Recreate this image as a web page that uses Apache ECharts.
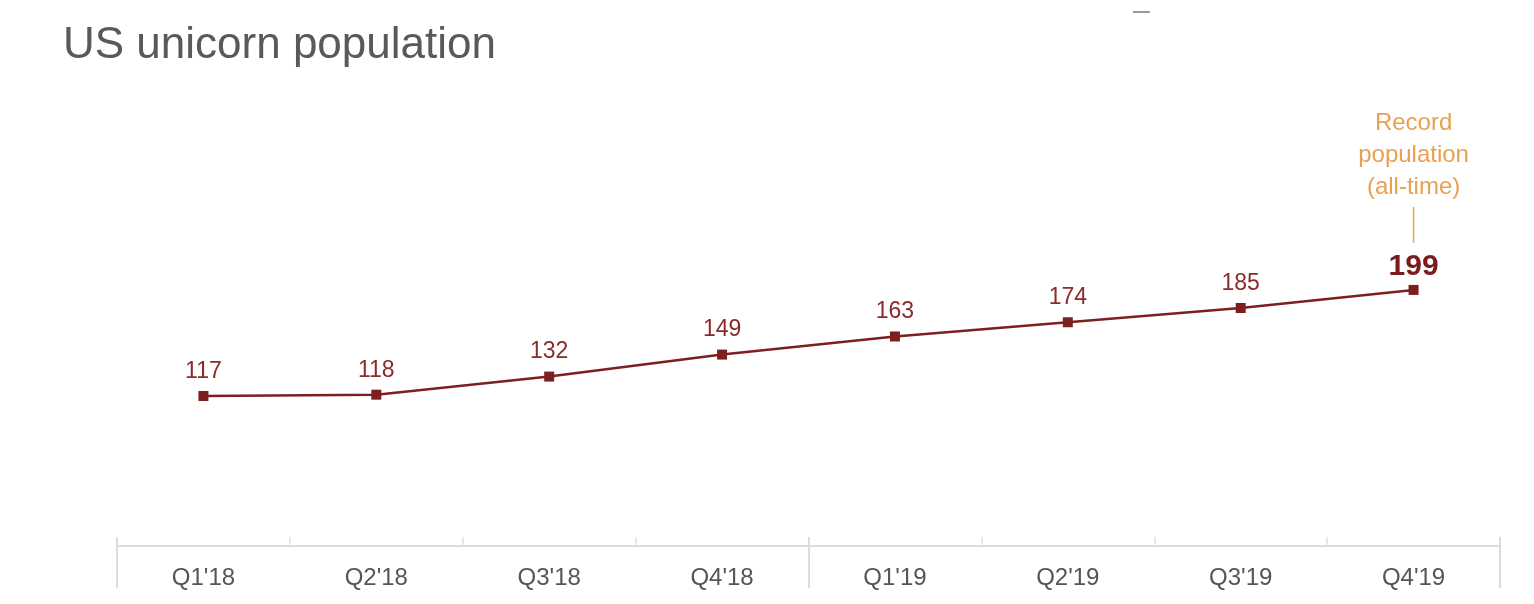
<!DOCTYPE html>
<html>
<head>
<meta charset="utf-8">
<script src="https://cdn.jsdelivr.net/npm/echarts@6/dist/echarts.min.js"></script>
<style>
html,body{margin:0;padding:0;background:#fff;}
#chart{width:1534px;height:604px;}
</style>
</head>
<body>
<div id="chart"></div>
<script>
const categories = ["Q1'18","Q2'18","Q3'18","Q4'18","Q1'19","Q2'19","Q3'19","Q4'19"];
const unicorns = [117,118,132,149,163,174,185,199];
const titleText = "US unicorn population";
const noteText = "Record\npopulation\n(all-time)";

const FONT = "'Liberation Sans', Arial, Helvetica, sans-serif";
const lineColor = "#7d1f1f";
const labelColor = "#8a2a2a";
const lastIdx = unicorns.length - 1;

const chart = echarts.init(document.getElementById('chart'), null, {renderer:'canvas'});
chart.setOption({
  animation:false,
  backgroundColor:'#ffffff',
  textStyle:{fontFamily:FONT},
  title:{
    text:titleText, left:58, top:19,
    textStyle:{fontSize:44, fontWeight:'normal', color:'#595959', fontFamily:FONT}
  },
  graphic:[{type:'rect', shape:{x:1133,y:11,width:17,height:2}, style:{fill:'#9a9a9a'}}],
  grid:{left:117, right:34, top:158, bottom:58},
  xAxis:[
    {
      type:'category', data:categories, boundaryGap:true, position:'bottom',
      axisLine:{show:true, lineStyle:{color:'#dcdcdc', width:2}},
      axisTick:{show:false},
      axisLabel:{color:'#555555', fontSize:24, margin:20, fontFamily:FONT},
      splitLine:{show:false}
    },
    {
      type:'value', min:0, max:categories.length, interval:1, position:'bottom',
      axisLine:{show:false},
      axisTick:{show:true, inside:true, length:9, lineStyle:{color:'#e2e2e2', width:1.5}},
      axisLabel:{show:false}, splitLine:{show:false}
    },
    {
      type:'value', min:0, max:categories.length, interval:categories.length/2, position:'bottom',
      axisLine:{show:false},
      axisTick:{show:true, inside:false, length:42, lineStyle:{color:'#dcdcdc', width:2}},
      axisLabel:{show:false}, splitLine:{show:false}
    },
    {
      type:'value', min:0, max:categories.length, interval:categories.length/2, position:'bottom',
      axisLine:{show:false},
      axisTick:{show:true, inside:true, length:9, lineStyle:{color:'#dcdcdc', width:2}},
      axisLabel:{show:false}, splitLine:{show:false}
    }
  ],
  yAxis:{
    type:'value', min:1, max:301, show:false, splitLine:{show:false}
  },
  series:[{
    type:'line', xAxisIndex:0, data:unicorns.map((v,i)=> i===lastIdx ? {
        value:v,
        label:{fontSize:30, fontWeight:'bold', color:'#7a1c1c', distance:3}
      } : v),
    symbol:'rect', symbolSize:10,
    lineStyle:{color:lineColor, width:2.5},
    itemStyle:{color:lineColor},
    label:{show:true, position:'top', distance:8, fontSize:23, color:labelColor, fontFamily:FONT},
    markPoint:{
      symbol:'rect', symbolSize:[1.5,36], symbolOffset:[0,-65],
      itemStyle:{color:'#e9a050'},
      label:{show:true, position:'top', distance:4, formatter:noteText, color:'#e9a050',
             fontSize:24, lineHeight:32, fontFamily:FONT, align:'center'},
      data:[{coord:[lastIdx, unicorns[lastIdx]]}]
    }
  }]
});
</script>
</body>
</html>
